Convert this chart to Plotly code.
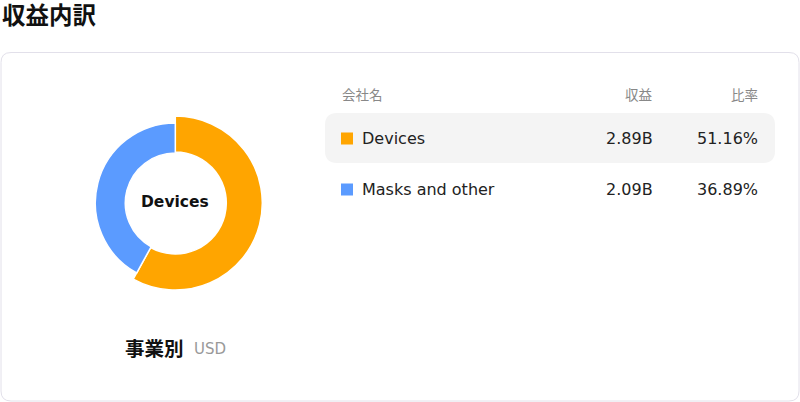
import plotly.graph_objects as go

# データ
segments = ["Devices", "Masks and other"]
revenue_b = [2.89, 2.09]
ratios = [51.16, 36.89]
seg_colors = ["#FFA500", "#5B9BFF"]
headers = ["会社名", "収益", "比率"]

W, H = 800, 402
FONT = "DejaVu Sans, Noto Sans CJK JP, sans-serif"


def px(x):
    return x / W


def py(y):
    return 1 - y / H


def rounded_rect(x0, y0, x1, y1, r):
    # path en coordonnées paper à partir de pixels
    pts = [
        f"M {px(x0 + r)},{py(y0)}",
        f"L {px(x1 - r)},{py(y0)}",
        f"Q {px(x1)},{py(y0)} {px(x1)},{py(y0 + r)}",
        f"L {px(x1)},{py(y1 - r)}",
        f"Q {px(x1)},{py(y1)} {px(x1 - r)},{py(y1)}",
        f"L {px(x0 + r)},{py(y1)}",
        f"Q {px(x0)},{py(y1)} {px(x0)},{py(y1 - r)}",
        f"L {px(x0)},{py(y0 + r)}",
        f"Q {px(x0)},{py(y0)} {px(x0 + r)},{py(y0)}",
        "Z",
    ]
    return " ".join(pts)


fig = go.Figure()

# donut: la tranche survolée (Devices) est plus grande
cx, cy = 175.3, 203
for idx, (r_out, r_in) in enumerate([(87, 51), (80, 50)]):
    cols = ["rgba(0,0,0,0)"] * len(segments)
    lines = ["rgba(0,0,0,0)"] * len(segments)
    cols[idx] = seg_colors[idx]
    lines[idx] = "white"
    fig.add_trace(go.Pie(
        labels=segments,
        values=revenue_b,
        hole=r_in / r_out,
        sort=False,
        direction="clockwise",
        rotation=0,
        textinfo="none",
        hoverinfo="skip",
        marker=dict(colors=cols, line=dict(color=lines, width=1.5)),
        domain=dict(x=[px(cx - r_out), px(cx + r_out)], y=[py(cy + r_out), py(cy - r_out)]),
        showlegend=False,
    ))

shapes = [
    dict(type="path", xref="paper", yref="paper", path=rounded_rect(1, 52.5, 799, 401, 10),
         line=dict(color="#E2E0EA", width=1), fillcolor="white", layer="below"),
    dict(type="path", xref="paper", yref="paper", path=rounded_rect(325, 113, 775, 163, 12),
         line=dict(width=0), fillcolor="#F4F4F4", layer="below"),
]

annotations = [
    dict(text="<b>収益内訳</b>", x=px(0), y=py(16.5), xanchor="left", yanchor="middle",
         font=dict(size=23.5, color="#111", family=FONT)),
    dict(text=f"<b>{segments[0]}</b>", x=px(cx), y=py(202), xanchor="center", yanchor="middle",
         font=dict(size=15.5, color="#111", family=FONT)),
    dict(text="<b>事業別</b>", x=px(123), y=py(349), xanchor="left", yanchor="middle",
         font=dict(size=19.5, color="#111", family=FONT)),
    dict(text="USD", x=px(192), y=py(349), xanchor="left", yanchor="middle",
         font=dict(size=15, color="#999", family=FONT)),
    dict(text=headers[0], x=px(340), y=py(95), xanchor="left", yanchor="middle",
         font=dict(size=13.5, color="#888", family=FONT)),
    dict(text=headers[1], x=px(655), y=py(95), xanchor="right", yanchor="middle",
         font=dict(size=13.5, color="#888", family=FONT)),
    dict(text=headers[2], x=px(760), y=py(95), xanchor="right", yanchor="middle",
         font=dict(size=13.5, color="#888", family=FONT)),
]

row_y0, row_h = 138.5, 51
for i, name in enumerate(segments):
    ry = row_y0 + i * row_h
    shapes.append(dict(type="rect", xref="paper", yref="paper",
                       x0=px(341), x1=px(353), y0=py(ry + 6), y1=py(ry - 6),
                       fillcolor=seg_colors[i], line=dict(width=0)))
    annotations += [
        dict(text=name, x=px(360), y=py(ry), xanchor="left", yanchor="middle",
             font=dict(size=16, color="#222", family=FONT)),
        dict(text=f"{revenue_b[i]:.2f}B", x=px(655), y=py(ry), xanchor="right", yanchor="middle",
             font=dict(size=16, color="#222", family=FONT)),
        dict(text=f"{ratios[i]:.2f}%", x=px(760), y=py(ry), xanchor="right", yanchor="middle",
             font=dict(size=16, color="#222", family=FONT)),
    ]

for a in annotations:
    a.update(xref="paper", yref="paper", showarrow=False)

fig.update_layout(
    width=W, height=H,
    margin=dict(l=0, r=0, t=0, b=0),
    paper_bgcolor="white",
    plot_bgcolor="white",
    shapes=shapes,
    annotations=annotations,
)

# pas de marge du body pour que la figure remplisse la fenêtre
fig.write_html("out.html", config={"displayModeBar": False},
               post_script="document.body.style.margin='0px';")
